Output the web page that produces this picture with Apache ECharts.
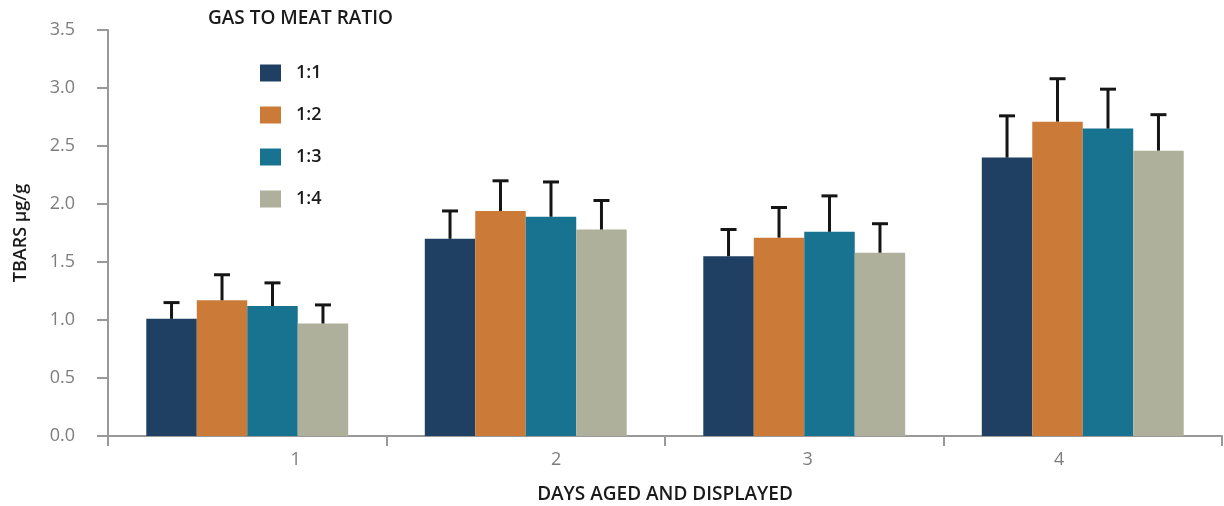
<!DOCTYPE html>
<html>
<head>
<meta charset="utf-8">
<title>TBARS by gas to meat ratio</title>
<script src="https://cdn.jsdelivr.net/npm/echarts@6/dist/echarts.min.js"></script>
<style>
  html, body { margin: 0; padding: 0; background: #ffffff; }
  #chart { width: 1224px; height: 506px; }
</style>
</head>
<body>
<div id="chart"></div>
<script>
// Days aged and displayed
const days = ['1', '2', '3', '4'];

// Gas to meat ratios
const ratios = ['1:1', '1:2', '1:3', '1:4'];

// Mean TBARS (µg/g) per ratio, one value per day
const ratio11 = [1.01, 1.70, 1.55, 2.40];
const ratio12 = [1.17, 1.94, 1.71, 2.71];
const ratio13 = [1.12, 1.89, 1.76, 2.65];
const ratio14 = [0.97, 1.78, 1.58, 2.46];

// Upper error (µg/g) above each mean
const err11 = [0.14, 0.24, 0.23, 0.36];
const err12 = [0.22, 0.26, 0.26, 0.37];
const err13 = [0.20, 0.30, 0.31, 0.34];
const err14 = [0.16, 0.25, 0.25, 0.31];

// Y axis ticks
const yMin = 0;
const yMax = 3.5;
const yStep = 0.5;

const means = [ratio11, ratio12, ratio13, ratio14];
const errors = [err11, err12, err13, err14];
const colors = ['#1f4063', '#cb7a38', '#17738f', '#aeb09b'];

const CATEGORY_GAP = 0.275;
const nSeries = ratios.length;

const TICK_FONT = { fontFamily: 'Open Sans', fontSize: 18, color: '#7d7d7d', fontWeight: 'normal' };
const NAME_FONT = { fontFamily: 'Open Sans', fontSize: 19, fontWeight: 600, color: '#1a1a1a' };

// per-label horizontal shift (rich text padding) for the day labels
const labelRich = {
  d0: { padding: [0, 0, 0, 97] },
  d1: { padding: [0, 0, 0, 61] },
  d2: { padding: [0, 0, 0, 7] },
  d3: { padding: [0, 47, 0, 0] }
};
Object.keys(labelRich).forEach(k => Object.assign(labelRich[k], TICK_FONT));

const barSeries = ratios.map((name, k) => ({
  name: name,
  type: 'bar',
  data: means[k],
  barGap: 0,
  barCategoryGap: (CATEGORY_GAP * 100) + '%',
  itemStyle: { color: colors[k] },
  emphasis: { disabled: true },
  z: 2
}));

// upper-only whiskers with a cap, centred on each bar
const errorSeries = ratios.map((name, k) => ({
  type: 'custom',
  name: name + ' error',
  data: means[k].map((m, i) => [i, m, errors[k][i]]),
  encode: { x: 0, y: 1 },
  z: 3,
  silent: true,
  renderItem: function (params, api) {
    const idx = api.value(0);
    const mean = api.value(1);
    const err = api.value(2);
    const base = api.coord([idx, mean]);
    const top = api.coord([idx, mean + err]);
    const band = api.size([1, 0])[0];
    const bw = band * (1 - CATEGORY_GAP) / nSeries;
    const cx = base[0] + (k - (nSeries - 1) / 2) * bw;
    const style = { stroke: '#151515', lineWidth: 3 };
    return {
      type: 'group',
      children: [
        { type: 'line', shape: { x1: cx, y1: base[1], x2: cx, y2: top[1] }, style: style },
        { type: 'line', shape: { x1: cx - 8, y1: top[1], x2: cx + 8, y2: top[1] }, style: style }
      ]
    };
  }
}));

const chart = echarts.init(document.getElementById('chart'), null, { renderer: 'canvas' });

chart.setOption({
  backgroundColor: '#ffffff',
  animation: false,
  title: {
    text: 'GAS TO MEAT RATIO',
    left: 203,
    top: 4,
    textStyle: Object.assign({}, NAME_FONT)
  },
  legend: {
    data: ratios,
    orient: 'vertical',
    left: 255,
    top: 59,
    itemWidth: 21,
    itemHeight: 17,
    itemGap: 24,
    icon: 'rect',
    selectedMode: false,
    textStyle: Object.assign({}, NAME_FONT, { fontSize: 18, padding: [0, 0, 0, 10] })
  },
  grid: { left: 108, right: 2, top: 30, bottom: 70, containLabel: false, outerBoundsMode: 'none' },
  xAxis: {
    type: 'category',
    data: days,
    name: 'DAYS AGED AND DISPLAYED',
    nameLocation: 'middle',
    nameGap: 49,
    nameTextStyle: NAME_FONT,
    axisLine: { lineStyle: { color: '#999999', width: 2 } },
    axisTick: { show: true, length: 10, lineStyle: { color: '#999999', width: 2 }, alignWithLabel: false },
    axisLabel: {
      margin: 15,
      formatter: function (value, index) { return '{d' + index + '|' + value + '}'; },
      rich: labelRich
    }
  },
  yAxis: {
    type: 'value',
    min: yMin,
    max: yMax,
    interval: yStep,
    name: 'TBARS µg/g',
    nameLocation: 'middle',
    nameGap: 78,
    nameTextStyle: Object.assign({}, NAME_FONT, { fontSize: 18 }),
    axisLine: { show: true, lineStyle: { color: '#999999', width: 2 } },
    axisTick: { show: true, length: 11, lineStyle: { color: '#999999', width: 2 } },
    splitLine: { show: false },
    axisLabel: Object.assign({
      margin: 33,
      formatter: function (v) { return v.toFixed(1); }
    }, TICK_FONT)
  },
  series: barSeries.concat(errorSeries)
});
</script>
</body>
</html>
